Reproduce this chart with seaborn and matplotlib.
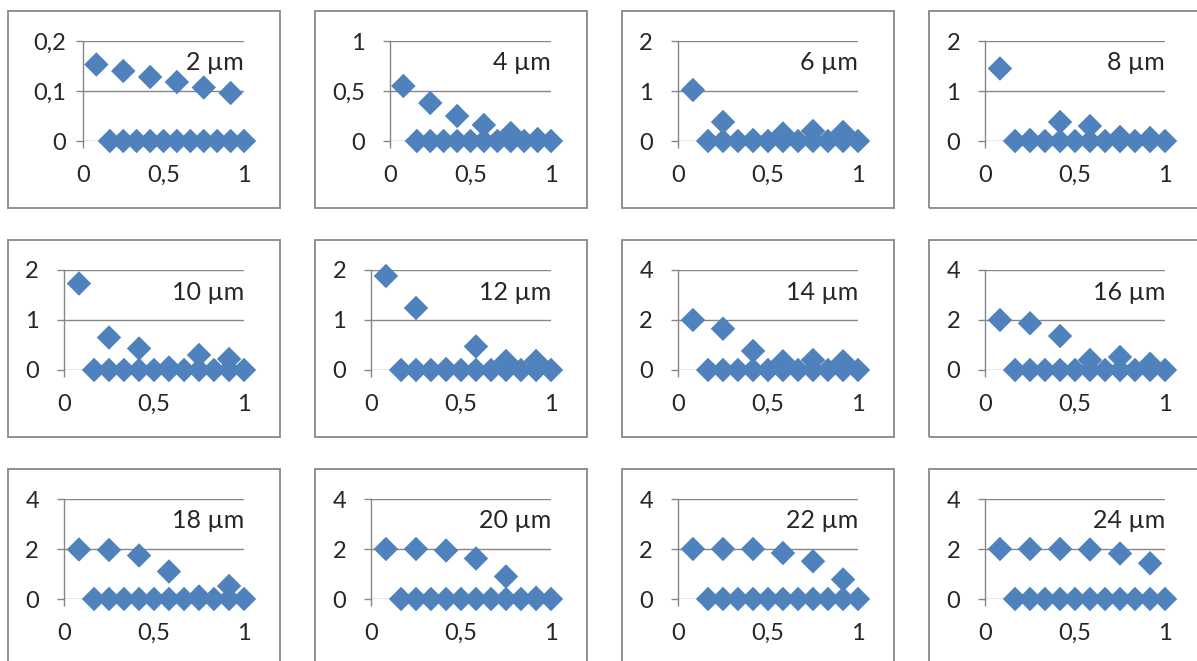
import numpy as np
import pandas as pd
import seaborn as sns
import matplotlib.pyplot as plt
from matplotlib.patches import Rectangle

sns.set_theme(style='white')
plt.rcParams['font.family'] = ['Lato', 'DejaVu Sans']
plt.rcParams['axes.axisbelow'] = True

# x positions of the measured points and of the zero row
x_peak = [0.083, 0.25, 0.417, 0.583, 0.75, 0.917]
x_zero = [0.167, 0.25, 0.333, 0.417, 0.5, 0.583, 0.667, 0.75, 0.833, 0.917, 1.0]

# values (one list per particle size)
y_2um = [0.153, 0.140, 0.128, 0.118, 0.107, 0.096]
y_4um = [0.55, 0.38, 0.25, 0.16, 0.08, 0.02]
y_6um = [1.02, 0.38, 0.02, 0.15, 0.20, 0.18]
y_8um = [1.45, 0.02, 0.38, 0.30, 0.08, 0.06]
y_10um = [1.73, 0.65, 0.43, 0.05, 0.30, 0.22]
y_12um = [1.88, 1.24, 0.02, 0.47, 0.18, 0.18]
y_14um = [2.00, 1.65, 0.76, 0.35, 0.40, 0.35]
y_16um = [2.00, 1.87, 1.36, 0.40, 0.52, 0.25]
y_18um = [1.98, 1.96, 1.74, 1.10, 0.10, 0.52]
y_20um = [2.00, 2.00, 1.94, 1.62, 0.90, 0.05]
y_22um = [2.00, 2.00, 2.00, 1.84, 1.51, 0.78]
y_24um = [2.00, 2.00, 2.00, 1.98, 1.82, 1.43]

panel_values = [y_2um, y_4um, y_6um, y_8um, y_10um, y_12um,
                y_14um, y_16um, y_18um, y_20um, y_22um, y_24um]
panel_labels = ['2 µm', '4 µm', '6 µm', '8 µm', '10 µm', '12 µm',
                '14 µm', '16 µm', '18 µm', '20 µm', '22 µm', '24 µm']
y_max = [0.2, 1, 2, 2, 2, 2, 4, 4, 4, 4, 4, 4]
ytick_sets = {0.2: ([0, 0.1, 0.2], ['0', '0,1', '0,2']),
              1: ([0, 0.5, 1], ['0', '0,5', '1']),
              2: ([0, 1, 2], ['0', '1', '2']),
              4: ([0, 2, 4], ['0', '2', '4'])}
xticks = [0, 0.5, 1]
xtick_labels = ['0', '0,5', '1']

blue = '#4F81BD'
gray = '#868686'

W, H = 1197, 661
fig = plt.figure(figsize=(W / 100, H / 100), dpi=100)

box_x = [8, 315, 622, 929]
box_y = [11, 240, 469]
box_w, box_h = 272, 197

for i, vals in enumerate(panel_values):
    r, c = divmod(i, 4)
    bx, by = box_x[c], box_y[r]
    fig.patches.append(Rectangle((bx / W, 1 - (by + box_h) / H), box_w / W, box_h / H,
                                 transform=fig.transFigure, fill=False,
                                 edgecolor='#888888', lw=1.3))

    wide = y_max[i] < 2
    left = bx + (75 if wide else 56)
    right = bx + 236
    top, bottom = by + 30, by + 130
    ax = fig.add_axes([left / W, 1 - bottom / H, (right - left) / W, (bottom - top) / H])

    df_zero = pd.DataFrame({'x': x_zero, 'y': [0.0] * len(x_zero)})
    df_peak = pd.DataFrame({'x': x_peak, 'y': vals})
    for df in (df_zero, df_peak):
        sns.scatterplot(data=df, x='x', y='y', marker='D', s=155, color=blue,
                        edgecolor='none', clip_on=False, ax=ax, zorder=3)

    ax.set_xlim(0, 1)
    ax.set_ylim(0, y_max[i])
    yt, ytl = ytick_sets[y_max[i]]
    ax.set_yticks(yt)
    ax.set_yticklabels(ytl)
    ax.set_xticks(xticks)
    ax.set_xticklabels(xtick_labels)
    ax.set_xlabel('')
    ax.set_ylabel('')
    ax.grid(axis='y', color=gray, lw=1)
    ax.grid(axis='x', visible=False)
    for s in ['top', 'right', 'bottom']:
        ax.spines[s].set_visible(False)
    ax.spines['left'].set_color(gray)
    ax.spines['left'].set_linewidth(1)
    ax.tick_params(axis='y', length=5, width=1, color=gray, labelsize=17,
                   pad=7 if i == 0 else 13, left=True)
    ax.tick_params(axis='x', length=5, width=1, color=gray, labelsize=17,
                   pad=12, bottom=True)
    ax.set_facecolor('none')
    ax.text(1.0, 0.78, panel_labels[i], transform=ax.transAxes, ha='right',
            va='center', fontsize=18)

fig.savefig('out.png', dpi=100)
